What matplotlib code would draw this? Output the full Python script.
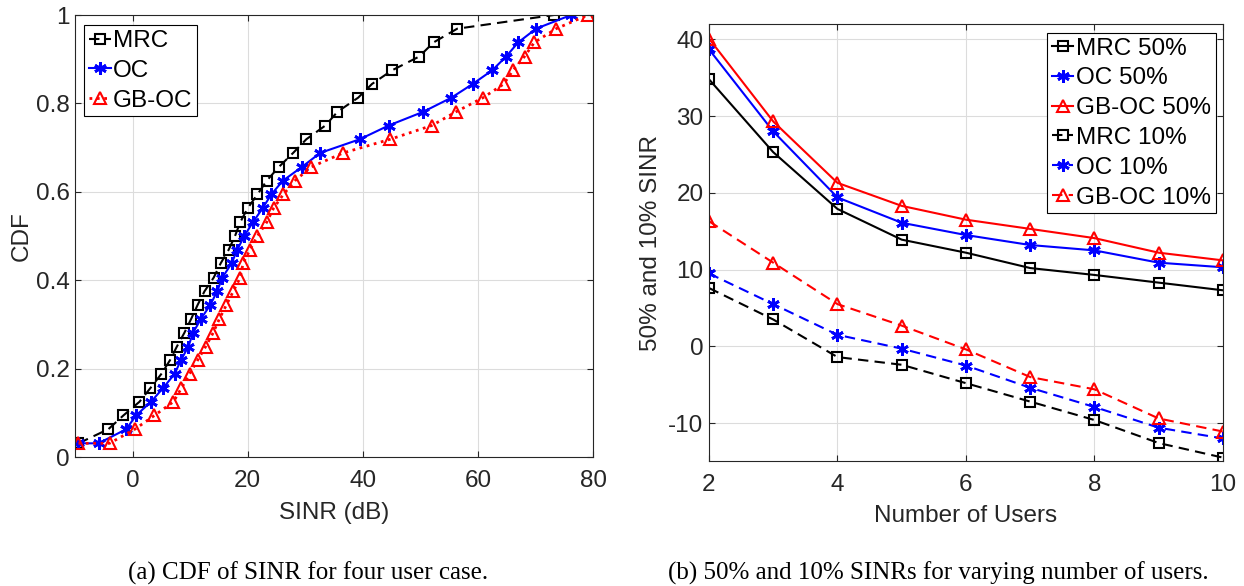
import matplotlib
matplotlib.use('Agg')
import matplotlib.pyplot as plt

plt.rcParams['font.family'] = ['Liberation Sans', 'DejaVu Sans']
plt.rcParams['axes.unicode_minus'] = False

# Left panel: CDF of SINR for four users (dB)
cdf_levels = [0.031, 0.063, 0.094, 0.125, 0.156, 0.188, 0.219, 0.25, 0.281, 0.313,
              0.344, 0.375, 0.406, 0.438, 0.469, 0.5, 0.531, 0.563, 0.594, 0.625,
              0.656, 0.688, 0.719, 0.75, 0.781, 0.813, 0.844, 0.875, 0.906, 0.938,
              0.969, 1.0]
mrc_sinr = [-9.4, -4.2, -1.6, 1.2, 3.1, 5.0, 6.5, 7.7, 9.0, 10.2, 11.3, 12.5, 14.1,
            15.3, 16.7, 17.8, 18.7, 20.0, 21.7, 23.3, 25.4, 27.9, 30.2, 33.5, 35.6,
            39.2, 41.6, 45.1, 49.8, 52.3, 56.4, 73.2]
oc_sinr = [-9.4, -5.9, -1.1, 0.6, 3.2, 5.3, 7.3, 8.4, 9.7, 10.5, 11.9, 13.5, 14.7,
           15.6, 17.2, 18.2, 19.4, 20.9, 22.6, 24.1, 26.1, 29.4, 32.6, 39.5, 44.5,
           50.5, 55.4, 59.1, 62.5, 64.9, 67.0, 70.1, 76.2]
gboc_sinr = [-9.4, -4.0, 0.4, 3.8, 7.1, 8.5, 9.9, 11.3, 12.7, 14.0, 15.1, 16.3, 17.5,
             18.7, 19.2, 20.4, 21.7, 23.3, 24.5, 26.2, 28.2, 31.0, 36.6, 44.8, 52.0,
             56.2, 60.9, 64.5, 66.1, 68.1, 69.8, 73.6, 79.1]
oc_cdf = [cdf_levels[0]] + cdf_levels
gboc_cdf = [cdf_levels[0]] + cdf_levels

# Right panel: 50% and 10% SINR vs number of users
users = [2, 3, 4, 5, 6, 7, 8, 9, 10]
mrc_50 = [34.8, 25.3, 17.9, 13.9, 12.2, 10.2, 9.3, 8.3, 7.3]
oc_50 = [38.7, 28.0, 19.4, 16.1, 14.5, 13.2, 12.5, 10.9, 10.3]
gboc_50 = [40.1, 29.3, 21.3, 18.3, 16.5, 15.3, 14.1, 12.2, 11.2]
mrc_10 = [7.6, 3.5, -1.4, -2.4, -4.8, -7.2, -9.6, -12.6, -14.5]
oc_10 = [9.5, 5.5, 1.5, -0.3, -2.5, -5.4, -7.9, -10.6, -12.0]
gboc_10 = [16.3, 10.9, 5.5, 2.7, -0.4, -4.0, -5.6, -9.4, -11.1]

fs = 17.5
dark = '#262626'
dash = (5, 3)
asterisk = (6, 2, 0)

fig = plt.figure(figsize=(12.44, 5.86), dpi=100)
ax1 = fig.add_axes([0.0603, 0.2201, 0.4164, 0.7543])
ax2 = fig.add_axes([0.5699, 0.2125, 0.4132, 0.7466])

# --- (a) CDF
ax1.plot(mrc_sinr, cdf_levels, color='black', linestyle='--', dashes=dash, lw=1.5,
         marker='s', ms=7, mfc='none', mew=1.5, label='MRC')
ax1.plot(oc_sinr, oc_cdf, color='blue', linestyle='-', lw=1.5,
         marker=asterisk, ms=9, mew=2, label='OC')
ax1.plot(gboc_sinr, gboc_cdf, color='red', linestyle=':', lw=2,
         marker='^', ms=9, mfc='none', mew=1.5, label='GB-OC')
ax1.set_xlim(-10, 80)
ax1.set_ylim(0, 1)
ax1.set_xticks([0, 20, 40, 60, 80])
ax1.set_yticks([0, 0.2, 0.4, 0.6, 0.8, 1])
ax1.set_yticklabels(['0', '0.2', '0.4', '0.6', '0.8', '1'])
ax1.set_xlabel('SINR (dB)', fontsize=fs, color=dark, va='center')
ax1.set_ylabel('CDF', fontsize=fs, color=dark, va='center')
ax1.xaxis.set_label_coords(0.5, -0.127)
ax1.yaxis.set_label_coords(-0.102, 0.5)
ax1.legend(loc='upper left', bbox_to_anchor=(0.017, 0.977), fontsize=fs,
           fancybox=False, edgecolor='black', framealpha=1, handlelength=0.9,
           handletextpad=0.1, labelspacing=0.32, borderpad=0.2, borderaxespad=0,
           numpoints=1)

# --- (b) 50% / 10% SINR
ax2.plot(users, mrc_50, color='black', lw=1.5, marker='s', ms=7, mfc='none', mew=1.5,
         label='MRC 50%')
ax2.plot(users, oc_50, color='blue', lw=1.5, marker=asterisk, ms=9, mew=2,
         label='OC 50%')
ax2.plot(users, gboc_50, color='red', lw=1.5, marker='^', ms=9, mfc='none', mew=1.5,
         label='GB-OC 50%')
ax2.plot(users, mrc_10, color='black', lw=1.5, linestyle='--', dashes=dash,
         marker='s', ms=7, mfc='none', mew=1.5, label='MRC 10%')
ax2.plot(users, oc_10, color='blue', lw=1.5, linestyle='--', dashes=dash,
         marker=asterisk, ms=9, mew=2, label='OC 10%')
ax2.plot(users, gboc_10, color='red', lw=1.5, linestyle='--', dashes=dash,
         marker='^', ms=9, mfc='none', mew=1.5, label='GB-OC 10%')
ax2.set_xlim(2, 10)
ax2.set_ylim(-15, 42)
ax2.set_xticks([2, 4, 6, 8, 10])
ax2.set_yticks([-10, 0, 10, 20, 30, 40])
ax2.set_xlabel('Number of Users', fontsize=fs, color=dark, va='center')
ax2.set_ylabel('50% and 10% SINR', fontsize=fs, color=dark, va='center')
ax2.xaxis.set_label_coords(0.5, -0.124)
ax2.yaxis.set_label_coords(-0.113, 0.5)
ax2.legend(loc='upper right', bbox_to_anchor=(0.986, 0.98), fontsize=fs,
           fancybox=False, edgecolor='black', framealpha=1, handlelength=0.9,
           handletextpad=0.1, labelspacing=0.32, borderpad=0.2, borderaxespad=0,
           numpoints=1)

# MATLAB-like box, ticks and grid
for ax in (ax1, ax2):
    ax.grid(True, color='#dcdcdc', lw=0.8)
    ax.set_axisbelow(True)
    ax.tick_params(direction='in', top=True, right=True, length=4, width=0.8,
                   colors=dark, labelsize=fs)
    ax.tick_params(axis='x', pad=9)
    ax.tick_params(axis='y', pad=4)
    for sp in ax.spines.values():
        sp.set_color(dark)
        sp.set_linewidth(0.8)
    ax.legend_.get_frame().set_linewidth(0.8)

# Sub-captions
fig.text(308 / 1244, 1 - 573 / 586, '(a) CDF of SINR for four user case.',
         family='Liberation Serif', fontsize=18, ha='center', va='center')
fig.text(938 / 1244, 1 - 573 / 586, '(b) 50% and 10% SINRs for varying number of users.',
         family='Liberation Serif', fontsize=18, ha='center', va='center')

plt.savefig('out.png', dpi=100)
